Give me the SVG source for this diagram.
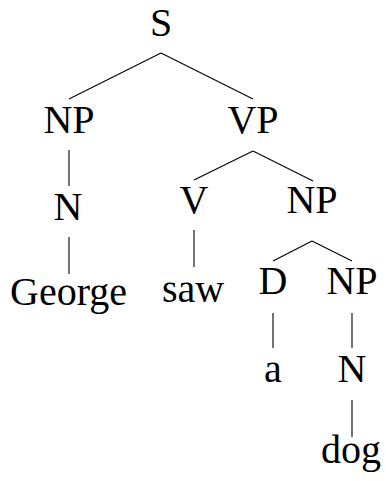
<svg xmlns="http://www.w3.org/2000/svg" width="386" height="481" viewBox="0 0 386 481">
<rect width="386" height="481" fill="#fff"/>
<g id="connectors" stroke="#000" stroke-width="1.1">
<line x1="161" y1="53" x2="69" y2="99"/>
<line x1="161" y1="53" x2="253" y2="99"/>
<line x1="69" y1="150" x2="69" y2="186"/>
<line x1="253" y1="151" x2="194" y2="180"/>
<line x1="253" y1="151" x2="313" y2="181"/>
<line x1="69" y1="237" x2="69" y2="274"/>
<line x1="194" y1="230" x2="194" y2="267"/>
<line x1="312" y1="241" x2="273" y2="261"/>
<line x1="312" y1="241" x2="352" y2="261"/>
<line x1="273" y1="313" x2="273" y2="348"/>
<line x1="352" y1="313" x2="352" y2="348"/>
<line x1="352" y1="400" x2="352" y2="437"/>
</g>
<g id="node-S"><text x="149.9" y="36" font-family="Liberation Serif, serif" font-size="40">S</text></g>
<g id="node-NP1"><text x="43.4" y="133" font-family="Liberation Serif, serif" font-size="40">NP</text></g>
<g id="node-VP"><text x="227.4" y="133" font-family="Liberation Serif, serif" font-size="40">VP</text></g>
<g id="node-N1"><text x="53.6" y="220" font-family="Liberation Serif, serif" font-size="40">N</text></g>
<g id="node-V"><text x="179.6" y="213" font-family="Liberation Serif, serif" font-size="40">V</text></g>
<g id="node-NP2"><text x="286.4" y="213" font-family="Liberation Serif, serif" font-size="40">NP</text></g>
<g id="node-George"><text x="10.1" y="305" font-family="Liberation Serif, serif" font-size="40">George</text></g>
<g id="node-saw"><text x="161.9" y="302" font-family="Liberation Serif, serif" font-size="40">saw</text></g>
<g id="node-D"><text x="258.6" y="294" font-family="Liberation Serif, serif" font-size="40">D</text></g>
<g id="node-NP3"><text x="326.4" y="294" font-family="Liberation Serif, serif" font-size="40">NP</text></g>
<g id="node-a"><text x="264.1" y="382" font-family="Liberation Serif, serif" font-size="40">a</text></g>
<g id="node-N2"><text x="337.6" y="382" font-family="Liberation Serif, serif" font-size="40">N</text></g>
<g id="node-dog"><text x="321" y="463" font-family="Liberation Serif, serif" font-size="40">dog</text></g>
</svg>
